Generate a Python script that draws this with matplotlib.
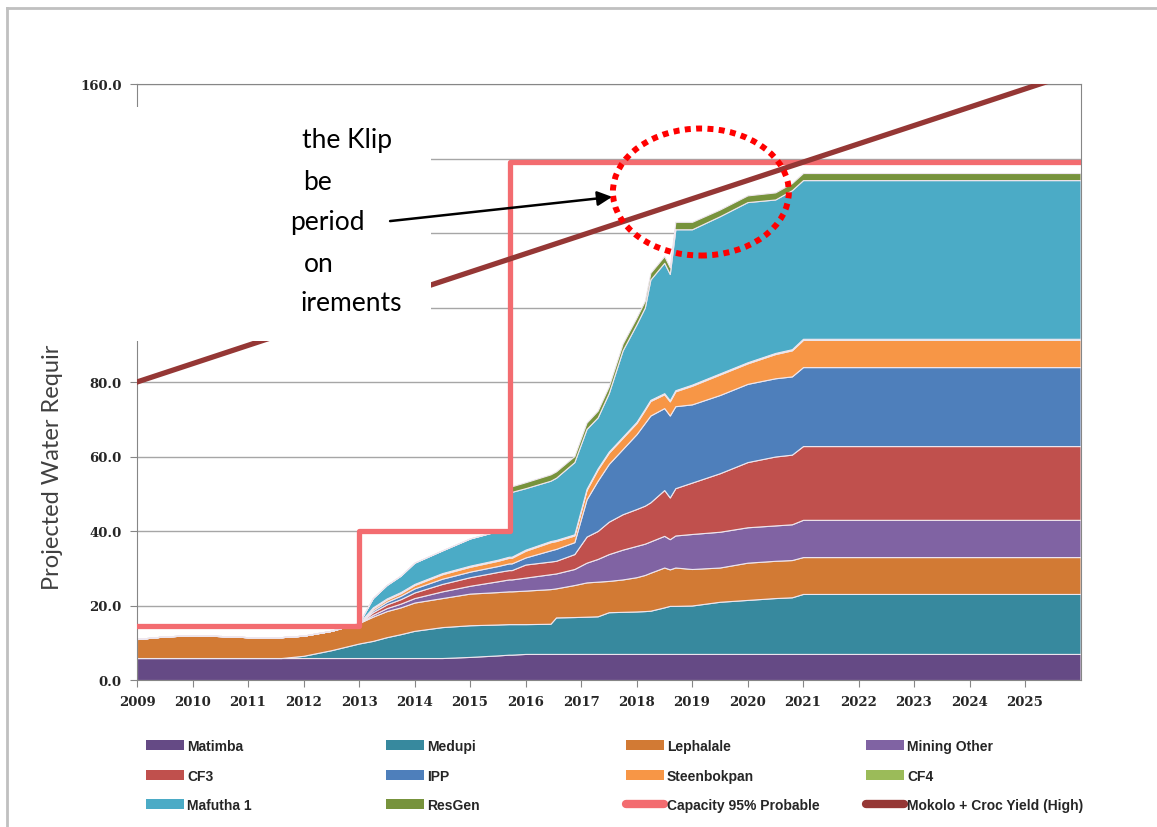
import matplotlib.pyplot as plt
from matplotlib.patches import Rectangle, Ellipse, Patch
from matplotlib.lines import Line2D
from matplotlib.ticker import FormatStrFormatter

plt.rcParams["font.family"] = ["DejaVu Sans"]

# time axis (decimal years) and band thickness of each source
years = [2009.0, 2009.5, 2010.0, 2010.5, 2011.0, 2011.6, 2012.0, 2012.5, 2013.0, 2013.25,
         2013.5, 2013.75, 2014.0, 2014.5, 2015.0, 2015.5, 2015.7, 2015.75, 2016.0, 2016.45,
         2016.55, 2016.88, 2017.1, 2017.3, 2017.5, 2017.75, 2018.0, 2018.15, 2018.25, 2018.5,
         2018.6, 2018.7, 2019.0, 2019.5, 2020.0, 2020.5, 2020.8, 2021.0, 2026.0]

matimba = [5.9, 5.9, 5.9, 5.9, 5.9, 5.9, 5.9, 5.9, 5.9, 5.9,
           5.9, 5.9, 5.9, 5.9, 6.2, 6.6, 6.8, 6.8, 7.0, 7.0,
           7.0, 7.0, 7.0, 7.0, 7.0, 7.0, 7.0, 7.0, 7.0, 7.0,
           7.0, 7.0, 7.0, 7.0, 7.0, 7.0, 7.0, 7.0, 7.0]
medupi = [0.0, 0.0, 0.0, 0.0, 0.0, 0.0, 0.6, 2.1, 3.9, 4.6,
          5.6, 6.4, 7.3, 8.3, 8.5, 8.3, 8.2, 8.2, 8.0, 8.1,
          9.8, 9.9, 10.0, 10.1, 11.2, 11.3, 11.4, 11.5, 11.6, 12.5,
          12.9, 12.9, 13.0, 14.0, 14.5, 15.0, 15.2, 16.1, 16.1]
lephalale = [5.1, 5.8, 6.1, 5.9, 5.6, 5.6, 5.4, 5.2, 5.5, 6.5,
             7.0, 7.2, 7.6, 7.8, 8.5, 8.7, 8.8, 8.8, 9.0, 9.3,
             7.8, 8.6, 9.2, 9.3, 8.4, 8.7, 9.2, 9.7, 10.2, 10.7,
             9.8, 10.3, 9.8, 9.2, 10.0, 10.0, 10.0, 9.9, 9.9]
mining_other = [0.0, 0.0, 0.0, 0.0, 0.0, 0.0, 0.0, 0.0, 0.0, 0.5,
                0.8, 1.0, 1.2, 1.8, 2.1, 2.9, 3.2, 3.2, 3.5, 4.0,
                4.0, 4.3, 5.3, 6.1, 7.2, 8.0, 8.4, 8.4, 8.4, 8.5,
                8.1, 8.6, 9.4, 9.6, 9.5, 9.5, 9.6, 10.0, 10.0]
cf3 = [0.0, 0.0, 0.0, 0.0, 0.0, 0.0, 0.0, 0.0, 0.0, 0.7,
       1.0, 1.2, 1.5, 2.0, 2.3, 2.5, 2.5, 2.5, 3.5, 3.4,
       3.4, 4.0, 7.0, 7.5, 8.7, 9.5, 9.9, 10.2, 10.5, 12.3,
       11.2, 12.7, 13.8, 15.7, 17.5, 18.5, 18.7, 19.8, 19.8]
ipp = [0.0, 0.0, 0.0, 0.0, 0.0, 0.0, 0.0, 0.0, 0.0, 0.5,
       0.7, 0.9, 1.1, 1.4, 1.5, 1.6, 1.8, 1.8, 1.9, 3.0,
       3.2, 3.2, 10.0, 13.5, 15.5, 17.5, 20.1, 22.2, 23.3, 22.0,
       22.0, 22.0, 21.0, 21.0, 21.0, 21.0, 21.0, 21.2, 21.2]
steenbokpan = [0.0, 0.0, 0.0, 0.0, 0.0, 0.0, 0.0, 0.0, 0.0, 0.5,
               0.6, 0.7, 0.9, 1.2, 1.3, 1.4, 1.5, 1.5, 1.8, 2.2,
               2.1, 1.8, 2.5, 3.0, 3.0, 3.0, 3.0, 3.5, 3.9, 3.7,
               3.8, 4.0, 5.0, 5.5, 5.5, 6.5, 7.0, 7.3, 7.3]
cf4 = [0.0, 0.0, 0.0, 0.0, 0.0, 0.0, 0.0, 0.0, 0.0, 0.3,
       0.3, 0.3, 0.3, 0.3, 0.3, 0.3, 0.3, 0.3, 0.3, 0.3,
       0.3, 0.3, 0.3, 0.3, 0.3, 0.3, 0.3, 0.3, 0.3, 0.3,
       0.3, 0.3, 0.3, 0.3, 0.3, 0.3, 0.3, 0.3, 0.3]
mafutha = [0.0, 0.0, 0.0, 0.0, 0.0, 0.0, 0.0, 0.0, 0.0, 2.5,
           3.6, 4.4, 5.7, 6.1, 7.3, 7.7, 7.4, 17.4, 16.5, 16.2,
           16.7, 19.4, 16.1, 13.7, 15.7, 23.2, 26.2, 27.2, 32.3, 35.0,
           33.9, 43.2, 41.7, 42.2, 43.0, 41.2, 42.7, 42.6, 42.6]
resgen = [0.0, 0.0, 0.0, 0.0, 0.0, 0.0, 0.0, 0.0, 0.0, 0.0,
          0.0, 0.0, 0.0, 0.0, 0.0, 0.0, 0.0, 1.5, 1.6, 1.7,
          1.7, 1.6, 1.7, 1.8, 1.8, 1.8, 1.8, 1.8, 1.8, 1.8,
          1.8, 2.0, 2.0, 1.8, 1.8, 1.9, 1.9, 1.9, 1.9]

names = ["Matimba", "Medupi", "Lephalale", "Mining Other", "CF3", "IPP",
         "Steenbokpan", "CF4", "Mafutha 1", "ResGen"]
colors = ["#654A85", "#37899E", "#D27A34", "#8063A3", "#C0504D", "#4E7FBB",
          "#F79646", "#9BBB59", "#4BABC6", "#77933C"]

# supply lines
cap_years = [2009, 2013, 2015.72, 2026]
cap_values = [14.5, 40, 139, 139]
yield_years = [2009, 2026]
yield_values = [80, 163.6]

fig = plt.figure(figsize=(11.57, 8.28), dpi=100)
ax = fig.add_axes([137 / 1157, 1 - 681 / 828, 943.5 / 1157, 596 / 828])

ax.stackplot(years, matimba, medupi, lephalale, mining_other, cf3, ipp,
             steenbokpan, cf4, mafutha, resgen, colors=colors,
             edgecolor="#EEE6EE", linewidth=0.8, zorder=2)
ax.plot(cap_years, cap_values, drawstyle="steps-post", color="#F36C70",
        lw=3.8, zorder=4)
ax.plot(yield_years, yield_values, color="#953735", lw=3.8, zorder=5)

ax.set_xlim(2009, 2026)
ax.set_ylim(0, 160)
ax.set_xticks(range(2009, 2026))
ax.set_yticks(range(0, 161, 20))
ax.yaxis.set_major_formatter(FormatStrFormatter("%.1f"))
ax.yaxis.grid(True, color="#A6A6A6", lw=1.0)
ax.set_axisbelow(True)
for s in ax.spines.values():
    s.set_color("#868686")
ax.tick_params(length=5, color="#868686", pad=6, labelcolor="#262626")
plt.setp(ax.get_xticklabels() + ax.get_yticklabels(),
         family="DejaVu Serif", weight="bold", size=9.5)

ax.text(-0.09, 0.1527, "Projected Water Requir", rotation=90, ha="center",
        va="bottom", family="Lato", size=17, color="#404040",
        transform=ax.transAxes, clip_on=False)

# red dotted circle round the crossing
ax.add_patch(Ellipse((2019.16, 131.0), 3.17, 34.1, fill=False, edgecolor="#FF0000",
                     lw=4.3, linestyle=(0, (1, 0.9)), zorder=6, clip_on=False))

# white call-out box sitting over the upper-left of the chart
ax.add_patch(Rectangle((-0.1044, 0.5688), 0.4156, 0.3926, transform=ax.transAxes,
                       facecolor="white", edgecolor="none", zorder=10, clip_on=False))
callout = [("the Klip", 0.175, 0.9077), ("be", 0.176, 0.8372), ("period", 0.162, 0.7685),
           ("on", 0.177, 0.698), ("irements", 0.173, 0.6326)]
for txt, tx, ty in callout:
    ax.text(tx, ty, txt, transform=ax.transAxes, ha="left", va="center",
            family="Lato", size=19, color="black", zorder=11, clip_on=False)
ax.annotate("", xy=(2017.56, 129.7), xytext=(2013.56, 123.2),
            arrowprops=dict(arrowstyle="-|>", color="black", lw=1.8,
                            mutation_scale=22, shrinkA=0, shrinkB=0),
            zorder=11)

# legend: 4 columns, 3 rows, filled row by row
handles = [Patch(facecolor=c, edgecolor="none") for c in colors]
handles.append(Line2D([], [], color="#F36C70", lw=6, solid_capstyle="round"))
handles.append(Line2D([], [], color="#953735", lw=6, solid_capstyle="round"))
labels = names + ["Capacity 95% Probable", "Mokolo + Croc Yield (High)"]
col_x = [146, 386, 626, 866]
for c in range(4):
    leg = fig.legend([handles[c + 4 * r] for r in range(3)],
                     [labels[c + 4 * r] for r in range(3)],
                     loc="upper left", bbox_to_anchor=(col_x[c] / 1157, 1 - 740 / 828),
                     frameon=False, borderpad=0, borderaxespad=0,
                     handlelength=2.7, handleheight=0.7, handletextpad=0.25,
                     labelspacing=1.12,
                     prop=dict(family="Liberation Sans", weight="bold", size=10))
    for t in leg.get_texts():
        t.set_color("#262626")

# outer frame (top and left edges only)
fig.add_artist(Line2D([7 / 1157, 7 / 1157], [0, 1 - 9 / 828], color="#C0C0C0",
                      lw=2, transform=fig.transFigure))
fig.add_artist(Line2D([7 / 1157, 1], [1 - 9 / 828, 1 - 9 / 828], color="#C0C0C0",
                      lw=2, transform=fig.transFigure))

fig.savefig("out.png", dpi=100)
